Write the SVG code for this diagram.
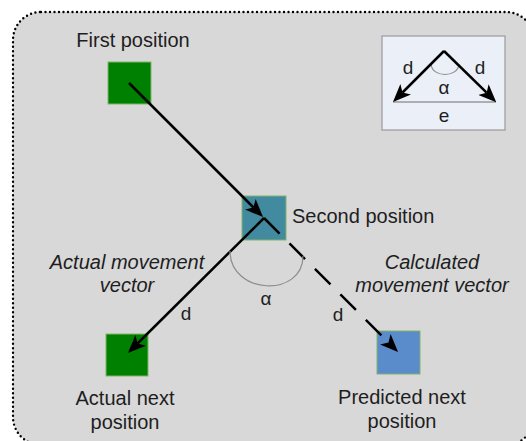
<svg xmlns="http://www.w3.org/2000/svg" width="526" height="441" viewBox="0 0 526 441">
  <defs>
    <marker id="arrow" viewBox="0 0 18 15" refX="4.5" refY="7.5" markerWidth="18" markerHeight="15" markerUnits="userSpaceOnUse" orient="auto">
      <path d="M0,0 L18,7.5 L0,15 L4.5,7.5 z" fill="#000"/>
    </marker>
  </defs>
  <style>
    text { font-family: "Liberation Sans", Arial, sans-serif; fill: #1e1e1e; }
    .lbl { font-size: 20px; text-anchor: middle; }
    .it { font-style: italic; }
    .sm { font-size: 19px; text-anchor: middle; }
    .sq { stroke: #82b366; stroke-width: 1; }
    .arr { stroke: #000; stroke-width: 2.5; fill: none; marker-end: url(#arrow); }
    .arc { stroke: #8c8c8c; stroke-width: 1.2; fill: none; }
  </style>

  <rect id="frame" x="13" y="12" width="521" height="433" rx="28" ry="28" fill="#d8d8d8" stroke="#000" stroke-width="2.4" stroke-dasharray="0 4.5" stroke-linecap="round"/>

  <g id="legend">
    <rect x="382" y="36" width="123" height="94" fill="#eaeff8" stroke="#9a9a9a" stroke-width="1.2"/>
    <line x1="393" y1="102" x2="496" y2="102" stroke="#6e6e6e" stroke-width="1.2"/>
    <path class="arc" d="M431,64 C432,78 458,78 459,64"/>
    <path class="arr" d="M444,51 L402.5,92.5"/>
    <path class="arr" d="M444,51 L486.6,92.7"/>
    <text class="sm" x="408" y="74">d</text>
    <text class="sm" x="480" y="74">d</text>
    <text class="sm" x="444" y="94">α</text>
    <text class="sm" x="444" y="122">e</text>
  </g>

  <g id="first-position">
    <rect class="sq" x="108" y="62" width="43" height="42" fill="#008000"/>
    <text class="lbl" x="133" y="47">First position</text>
  </g>

  <g id="second-position">
    <rect class="sq" x="242" y="196" width="44" height="44" fill="#418a9f"/>
    <text x="292" y="223" font-size="20">Second position</text>
  </g>

  <g id="actual-next-position">
    <rect class="sq" x="106" y="334" width="42" height="42" fill="#008000"/>
    <text class="lbl" x="125" y="405">Actual next</text>
    <text class="lbl" x="125" y="429">position</text>
  </g>

  <g id="predicted-next-position">
    <rect class="sq" x="377" y="331" width="43" height="43" fill="#5a8bcb"/>
    <text class="lbl" x="402" y="404">Predicted next</text>
    <text class="lbl" x="402" y="428">position</text>
  </g>

  <g id="connectors">
    <path class="arr" d="M129,83 L253.5,207.5"/>
    <path class="arr" d="M264,218 L137.5,343.5"/>
    <path class="arr" d="M264,218 L388.5,342.5" stroke-dasharray="22 14"/>
    <path class="arc" d="M230,251 C230,295 303,298 303,256"/>
    <text class="sm" x="266" y="305">α</text>
    <text class="sm" x="186" y="320">d</text>
    <text class="sm" x="338" y="321">d</text>
    <text class="lbl it" x="127" y="269">Actual movement</text>
    <text class="lbl it" x="127" y="292">vector</text>
    <text class="lbl it" x="432" y="269">Calculated</text>
    <text class="lbl it" x="432" y="292">movement vector</text>
  </g>
</svg>
